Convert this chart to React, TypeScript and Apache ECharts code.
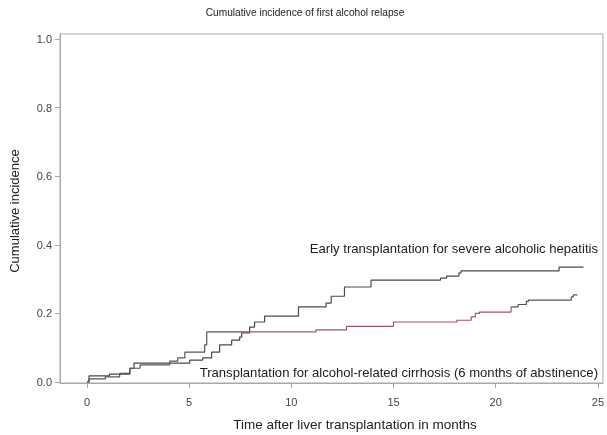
import React, { useEffect, useRef } from "react";
import * as echarts from "echarts";

const TITLE = "Cumulative incidence of first alcohol relapse";
const X_NAME = "Time after liver transplantation in months";
const Y_NAME = "Cumulative incidence";
const LABEL_EARLY = "Early transplantation for severe alcoholic hepatitis";
const LABEL_CIRR = "Transplantation for alcohol-related cirrhosis (6 months of abstinence)";

const xTicks = [0, 5, 10, 15, 20, 25];
const yTicks = [0, 0.2, 0.4, 0.6, 0.8, 1.0];

// Early transplantation for severe alcoholic hepatitis
const earlyMonths = [0, 0.1, 1.1, 2.1, 2.3, 5.03, 5.66, 6.1, 6.49, 7.08, 7.47, 7.57, 7.96, 8.2, 8.69, 10.35, 11.7, 11.95, 12.6, 13.9, 17.3, 17.6, 18.2, 18.3, 23.1, 24.3];
const earlyIncidence = [0, 0.018, 0.023, 0.04, 0.055, 0.064, 0.07, 0.087, 0.108, 0.122, 0.131, 0.143, 0.16, 0.175, 0.192, 0.219, 0.23, 0.25, 0.277, 0.297, 0.303, 0.309, 0.318, 0.324, 0.335, 0.335];

// Transplantation for alcohol-related cirrhosis
const cirrMonths = [0, 0.1, 0.9, 1.6, 2.1, 2.6, 4.05, 4.44, 4.79, 5.76, 5.86, 11.2, 12.7, 15.0, 18.1, 18.8, 19.0, 19.2, 20.75, 21.1, 21.5, 21.6, 23.7, 23.8, 24.0];
const cirrIncidence = [0, 0.009, 0.015, 0.025, 0.04, 0.05, 0.061, 0.07, 0.087, 0.108, 0.146, 0.152, 0.162, 0.175, 0.18, 0.19, 0.2, 0.204, 0.219, 0.226, 0.235, 0.239, 0.248, 0.254, 0.254];

const FONT = "Liberation Sans, Arial, sans-serif";

export default function App() {
  const ref = useRef<HTMLDivElement>(null);
  useEffect(() => {
    const chart = echarts.init(ref.current!, null, { renderer: "svg" });
    const text = (t: string, x: number, y: number, size: number, align: string, rot = 0) => ({
      type: "text",
      x,
      y,
      rotation: rot,
      style: {
        text: t,
        fill: "#222",
        fontSize: size,
        fontFamily: FONT,
        align,
        verticalAlign: "middle",
        textAlign: align,
        textVerticalAlign: "middle",
      },
    });
    chart.setOption({
      animation: false,
      grid: { left: 60, right: 3, top: 34, bottom: 52, show: true, borderColor: "#a8a8a8", borderWidth: 1 },
      xAxis: {
        type: "value",
        min: -1.32,
        max: 25.25,
        axisLine: { show: true, onZero: false, lineStyle: { color: "#a8a8a8" } },
        axisTick: { show: true, customValues: xTicks, length: 5, lineStyle: { color: "#a8a8a8" } },
        axisLabel: { customValues: xTicks, color: "#444", fontSize: 11, fontFamily: FONT, margin: 13 },
        splitLine: { show: false },
      },
      yAxis: {
        type: "value",
        min: -0.003,
        max: 1.015,
        axisLine: { show: true, onZero: false, lineStyle: { color: "#a8a8a8" } },
        axisTick: { show: true, customValues: yTicks, length: 5, lineStyle: { color: "#a8a8a8" } },
        axisLabel: {
          customValues: yTicks,
          color: "#444",
          fontSize: 11,
          fontFamily: FONT,
          margin: 8,
          formatter: (v: number) => v.toFixed(1),
        },
        splitLine: { show: false },
      },
      visualMap: {
        show: false,
        type: "piecewise",
        seriesIndex: 1,
        dimension: 0,
        pieces: [
          { lt: 7.6, color: "#555" },
          { gte: 7.6, lt: 20.8, color: "#a0545f" },
          { gte: 20.8, color: "#555" },
        ],
      },
      series: [
        {
          type: "line",
          step: "end",
          showSymbol: false,
          data: earlyMonths.map((m, i) => [m, earlyIncidence[i]]),
          lineStyle: { color: "#4a4a4a", width: 1.2 },
          itemStyle: { color: "#4a4a4a" },
        },
        {
          type: "line",
          step: "end",
          showSymbol: false,
          data: cirrMonths.map((m, i) => [m, cirrIncidence[i]]),
          lineStyle: { width: 1.2 },
        },
      ],
      graphic: [
        text(TITLE, 305, 12, 10.2, "center"),
        text(X_NAME, 355, 424, 13.5, "center"),
        text(Y_NAME, 14, 211, 13, "center", Math.PI / 2),
        text(LABEL_EARLY, 598, 248, 13.1, "right"),
        text(LABEL_CIRR, 598, 372, 13.1, "right"),
      ],
    });
    return () => chart.dispose();
  }, []);
  return <div ref={ref} style={{ position: "fixed", left: 0, top: 0, width: 607, height: 435 }} />;
}
